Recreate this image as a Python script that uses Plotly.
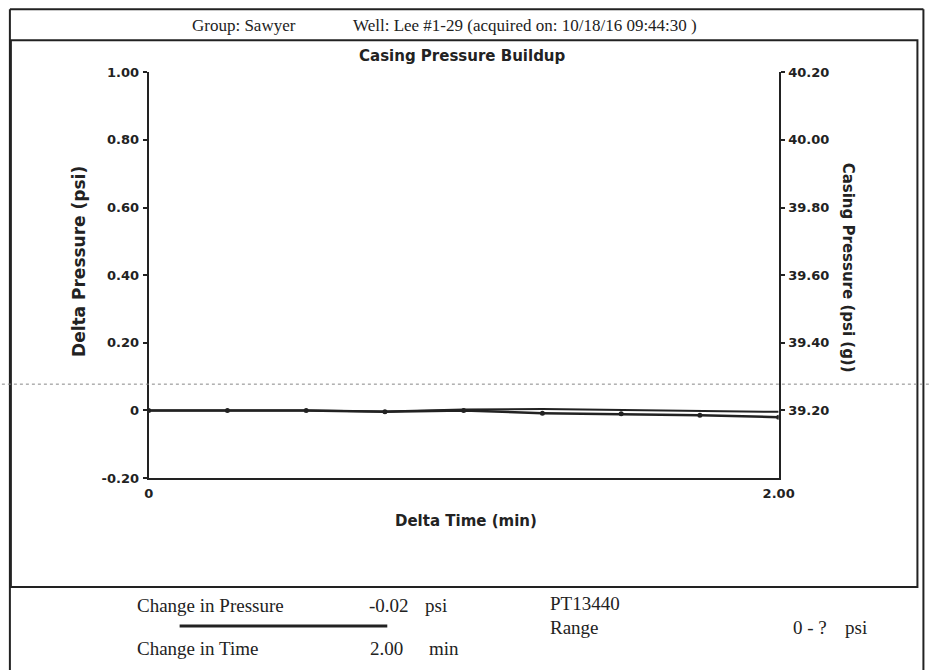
import plotly.graph_objects as go

# ---- data ----
time_min = [0, 0.25, 0.5, 0.75, 1.0, 1.25, 1.5, 1.75, 2.0]
delta_psi = [0.0, 0.0, 0.0, -0.004, 0.0, -0.008, -0.010, -0.014, -0.02]
casing_psig = [39.20, 39.20, 39.20, 39.197, 39.203, 39.204, 39.201, 39.197, 39.196]

left_tickvals = [-0.2, 0.0, 0.2, 0.4, 0.6, 0.8, 1.0]
left_ticktext = ["-0.20", "0", "0.20", "0.40", "0.60", "0.80", "1.00"]
right_tickvals = [39.2, 39.4, 39.6, 39.8, 40.0, 40.2]
right_ticktext = ["39.20", "39.40", "39.60", "39.80", "40.00", "40.20"]
x_tickvals = [0, 2.0]
x_ticktext = ["0", "2.00"]

header_group = "Group: Sawyer"
header_well = "Well: Lee #1-29 (acquired on: 10/18/16 09:44:30 )"
chart_title = "Casing Pressure Buildup"
left_title = "Delta Pressure (psi)"
right_title = "Casing Pressure (psi (g))"
x_title = "Delta Time (min)"

W, H = 930, 670
# compensation for the photographing offset/scale
AX, SX = 3.1, 0.979
AY, SY = 6.7, 0.978
def px(x):
    return ((x - AX) / SX) / W
def py(y):
    return 1 - ((y - AY) / SY) / H

INK = "#222222"
SANS = "DejaVu Sans, Arial, sans-serif"
SERIF = "Liberation Serif, Times New Roman, serif"

fig = go.Figure()
fig.add_trace(go.Scatter(
    x=time_min, y=casing_psig, yaxis="y2", mode="lines",
    line=dict(color=INK, width=2), showlegend=False))
fig.add_trace(go.Scatter(
    x=time_min, y=delta_psi, mode="lines+markers",
    line=dict(color=INK, width=2.5),
    marker=dict(size=5, color=INK, symbol="circle"),
    showlegend=False))

tickfont = dict(family=SANS, size=13, color=INK, weight="bold")

fig.update_layout(
    width=W, height=H,
    margin=dict(l=0, r=0, t=0, b=0),
    paper_bgcolor="white", plot_bgcolor="white",
    xaxis=dict(domain=[px(147), px(778)], range=[0, 2.0],
               tickvals=x_tickvals, ticktext=x_ticktext, ticks="",
               showgrid=False, zeroline=False, showline=True,
               linecolor=INK, linewidth=2, tickfont=tickfont, ticklabelstandoff=2),
    yaxis=dict(domain=[py(478), py(72)], range=[-0.2, 1.0],
               tickvals=left_tickvals, ticktext=left_ticktext,
               ticks="outside", ticklen=4, tickwidth=1.5, tickcolor=INK,
               showgrid=False, zeroline=False, showline=True,
               linecolor=INK, linewidth=2, tickfont=tickfont, ticklabelstandoff=1),
    yaxis2=dict(overlaying="y", side="right", anchor="x", range=[39.0, 40.2],
                tickvals=right_tickvals, ticktext=right_ticktext,
                ticks="outside", ticklen=4, tickwidth=1.5, tickcolor=INK,
                showgrid=False, zeroline=False, showline=True,
                linecolor=INK, linewidth=2, tickfont=tickfont, ticklabelstandoff=1),
)

shapes = []
# outer page border
shapes.append(dict(type="line", xref="paper", yref="paper", x0=px(8), x1=px(8), y0=py(9), y1=py(680), line=dict(color=INK, width=2)))
shapes.append(dict(type="line", xref="paper", yref="paper", x0=px(8), x1=px(923), y0=py(9), y1=py(9), line=dict(color=INK, width=2)))
shapes.append(dict(type="line", xref="paper", yref="paper", x0=px(923), x1=px(923), y0=py(9), y1=py(680), line=dict(color=INK, width=2)))
# chart panel
shapes.append(dict(type="rect", xref="paper", yref="paper", x0=px(9), x1=px(917), y0=py(587), y1=py(40), line=dict(color=INK, width=2)))
# scan artefact dotted line
shapes.append(dict(type="line", xref="paper", yref="paper", x0=px(0), x1=px(930), y0=py(384), y1=py(384), line=dict(color="#888888", width=1, dash="dot")))
# legend swatch under change in pressure
shapes.append(dict(type="line", xref="paper", yref="paper", x0=px(178), x1=px(386), y0=py(626), y1=py(626), line=dict(color=INK, width=3)))
fig.update_layout(shapes=shapes)

def ann(text, x, y, size=19, family=SERIF, bold=False, xanchor="left", angle=0):
    fig.add_annotation(text=text, xref="paper", yref="paper", x=px(x), y=py(y),
                       xanchor=xanchor, yanchor="middle", showarrow=False, textangle=angle,
                       font=dict(family=family, size=size, color=INK, weight="bold" if bold else "normal"))

ann(header_group, 188, 25, size=17)
ann(header_well, 524, 25, size=17, xanchor="center")
ann(chart_title, 461, 56, size=15, family=SANS, bold=True, xanchor="center")
ann(left_title, 77, 261, size=17, family=SANS, bold=True, xanchor="center", angle=-90)
ann(right_title, 847, 267, size=15, family=SANS, bold=True, xanchor="center", angle=90)
ann(x_title, 465, 521, size=15, family=SANS, bold=True, xanchor="center")

ann("Change in Pressure", 133, 605)
ann("-0.02", 366, 605)
ann("psi", 422, 605)
ann("Change in Time", 133, 648)
ann("2.00", 367, 648)
ann("min", 426, 648)
ann("PT13440", 547, 603)
ann("Range", 547, 627)
ann("0 - ?", 790, 627)
ann("psi", 842, 627)

fig.write_html("out.html", config={"displayModeBar": False},
               post_script="document.body.style.margin='0';document.body.style.overflow='hidden';")
